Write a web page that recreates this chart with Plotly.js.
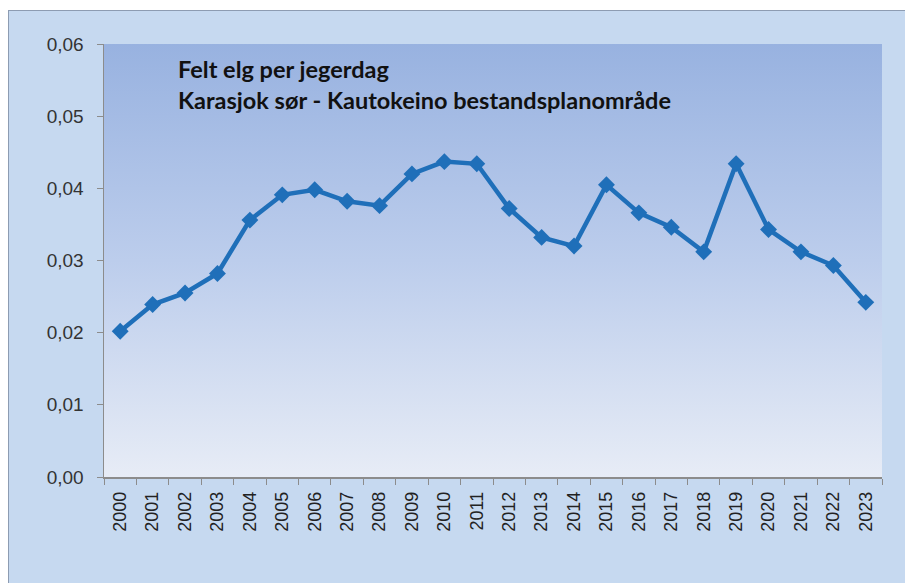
<!DOCTYPE html>
<html>
<head>
<meta charset="utf-8">
<script src="https://cdn.plot.ly/plotly-3.0.1.min.js"></script>
<style>
  html, body { margin: 0; padding: 0; background: #ffffff; }
  #wrap { position: relative; width: 905px; height: 583px; overflow: hidden; }
  #frame { position: absolute; left: 8px; top: 10px; width: 905px; height: 583px;
           background: #c6d9f0; border-left: 1px solid #8d9cb2; border-top: 1px solid #8d9cb2; }
  #chart { position: absolute; left: 0; top: 0; width: 905px; height: 583px; }
</style>
</head>
<body>
<div id="wrap">
  <div id="frame"></div>
  <div id="chart"></div>
</div>
<script>
const years = ["2000","2001","2002","2003","2004","2005","2006","2007","2008","2009","2010","2011",
               "2012","2013","2014","2015","2016","2017","2018","2019","2020","2021","2022","2023"];
const feltPerJegerdag = [0.0202, 0.0239, 0.0255, 0.0282, 0.0356, 0.0391, 0.0398, 0.0382, 0.0376, 0.0420, 0.0437, 0.0434,
                         0.0372, 0.0332, 0.0320, 0.0405, 0.0366, 0.0346, 0.0312, 0.0434, 0.0343, 0.0312, 0.0293, 0.0242];
const yTicks = [0, 0.01, 0.02, 0.03, 0.04, 0.05, 0.06];
const titleLines = ["Felt elg per jegerdag", "Karasjok sør - Kautokeino bestandsplanområde"];

const gradSvg = '<svg xmlns="http://www.w3.org/2000/svg" width="100" height="100" preserveAspectRatio="none">' +
  '<defs><linearGradient id="g" x1="0" y1="0" x2="0" y2="1">' +
  '<stop offset="0" stop-color="#98b2e0"/><stop offset="0.5" stop-color="#bccdec"/><stop offset="1" stop-color="#e7ecf6"/>' +
  '</linearGradient></defs><rect width="100" height="100" fill="url(#g)"/></svg>';
const gradSrc = 'data:image/svg+xml;charset=utf-8,' + encodeURIComponent(gradSvg);

const lineColor = '#1f6fb9';
const trace = {
  x: years, y: feltPerJegerdag, type: 'scatter', mode: 'lines+markers',
  line: { color: lineColor, width: 4.5 },
  marker: { symbol: 'diamond', size: 13, color: lineColor },
  hoverinfo: 'skip', showlegend: false
};

const layout = {
  width: 905, height: 583,
  margin: { l: 104, r: 23, t: 44, b: 106, pad: 0 },
  paper_bgcolor: 'rgba(0,0,0,0)',
  plot_bgcolor: 'rgba(0,0,0,0)',
  separators: ', ',
  font: { family: 'Liberation Sans, Arial, sans-serif', color: '#333333' },
  xaxis: {
    type: 'category', tickson: 'boundaries', range: [-0.5, 23.5],
    showline: true, linecolor: '#8c8c8c', linewidth: 1.5,
    ticks: 'outside', ticklen: 6, tickcolor: '#8c8c8c', tickwidth: 1,
    ticklabelstandoff: 6,
    tickangle: -90, tickfont: { size: 18, color: '#222222' },
    showgrid: false, zeroline: false, fixedrange: true
  },
  yaxis: {
    range: [0, 0.06], tickvals: yTicks, tickformat: '.2f',
    showline: true, linecolor: '#8c8c8c', linewidth: 1.5,
    ticks: 'outside', ticklen: 6, tickcolor: '#8c8c8c', tickwidth: 1,
    ticklabelstandoff: 9,
    tickfont: { size: 19, color: '#333333' },
    showgrid: false, zeroline: false, fixedrange: true
  },
  images: [{
    source: gradSrc, xref: 'paper', yref: 'paper', x: 0, y: 1, sizex: 1, sizey: 1,
    xanchor: 'left', yanchor: 'top', sizing: 'stretch', layer: 'below'
  }],
  annotations: [{
    xref: 'paper', yref: 'paper', x: 0.0925, y: 0.98, xanchor: 'left', yanchor: 'top',
    align: 'left', showarrow: false,
    text: '<b>' + titleLines.join('<br>') + '</b>',
    font: { family: 'Lato, sans-serif', size: 23.5, color: '#111111' }
  }]
};

Plotly.newPlot('chart', [trace], layout, { staticPlot: true, displayModeBar: false });
</script>
</body>
</html>
